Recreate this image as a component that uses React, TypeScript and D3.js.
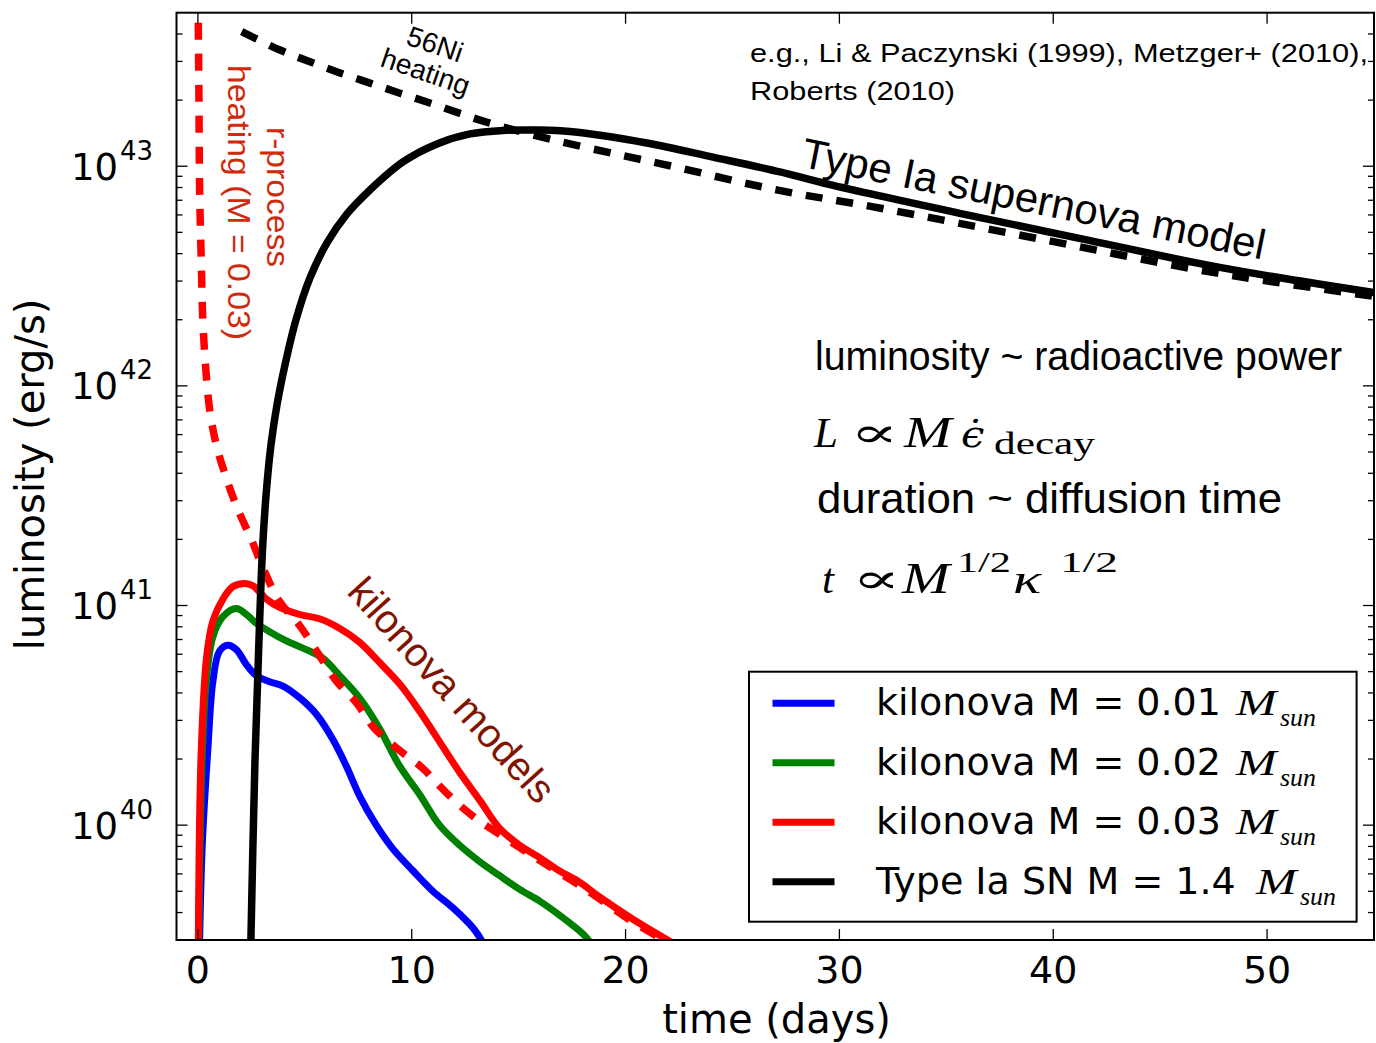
import React from "react";
import * as d3 from "d3";

// ---- axis ranges and ticks ----
const timeDomain: [number, number] = [-1, 55];
const lumDomain: [number, number] = [3e39, 5e43];
const timeTicks = [0, 10, 20, 30, 40, 50];
const lumMajorTicks = [1e40, 1e41, 1e42, 1e43];

// ---- kilonova light curves (time in days, luminosity in erg/s) ----
const kn001Days = [0.05, 0.2, 0.47, 0.7, 1.01, 1.41, 1.8, 2.26, 2.73, 3.35, 3.98, 4.76, 5.54, 6.32, 6.94, 7.56, 8.34, 9.12, 10.06, 10.99, 11.93, 12.87, 13.3];
const kn001Lum = [2.0e39, 7.9e39, 2.24e40, 4.5e40, 6.2e40, 6.6e40, 6.3e40, 5.4e40, 4.8e40, 4.5e40, 4.3e40, 3.8e40, 3.2e40, 2.45e40, 1.86e40, 1.36e40, 1.0e40, 7.8e39, 6.2e39, 5.0e39, 4.2e39, 3.4e39, 2.95e39];

const kn002Days = [0.02, 0.1, 0.2, 0.39, 0.7, 1.17, 1.8, 2.27, 2.73, 3.35, 4.14, 5.07, 5.85, 6.63, 7.56, 8.5, 9.43, 10.37, 11.3, 12.24, 13.2, 14.1, 15.05, 16.0, 16.9, 18.0, 18.5];
const kn002Lum = [2.0e39, 7.9e39, 2.0e40, 4.5e40, 7.2e40, 8.9e40, 9.7e40, 9.1e40, 8.3e40, 7.6e40, 6.9e40, 6.3e40, 5.75e40, 4.8e40, 3.8e40, 2.75e40, 1.86e40, 1.38e40, 1.0e40, 8.1e39, 6.8e39, 5.9e39, 5.1e39, 4.5e39, 3.9e39, 3.2e39, 2.8e39];

const kn003Days = [0.01, 0.06, 0.16, 0.4, 0.7, 1.17, 1.64, 2.19, 2.57, 3.2, 3.82, 4.76, 5.69, 6.6, 7.56, 8.5, 9.43, 10.37, 11.3, 12.24, 13.2, 14.1, 15.05, 16.0, 16.9, 17.85, 18.8, 20.4, 22.5];
const kn003Lum = [2.0e39, 7.9e39, 2.24e40, 5.75e40, 8.5e40, 1.07e41, 1.22e41, 1.26e41, 1.23e41, 1.07e41, 9.8e40, 9.1e40, 8.7e40, 7.9e40, 6.8e40, 5.5e40, 4.4e40, 3.3e40, 2.4e40, 1.74e40, 1.29e40, 9.7e39, 8.1e39, 7.1e39, 6.2e39, 5.5e39, 4.7e39, 3.7e39, 2.8e39];

// ---- r-process heating rate for M = 0.03 ----
const rprocDays = [0.02, 0.05, 0.08, 0.15, 0.23, 0.36, 0.55, 0.86, 1.33, 1.86, 2.5, 3.05, 3.8, 4.76, 5.55, 6.5, 7.42, 8.2, 9.3, 10.5, 11.6, 12.85, 14.1, 16.0, 18.0, 20.4, 22.5];
const rprocLum = [4.5e43, 2.0e43, 7.9e42, 4.0e42, 2.0e42, 1.23e42, 7.8e41, 5.4e41, 3.8e41, 2.75e41, 2.0e41, 1.48e41, 1.05e41, 8.1e40, 6.2e40, 4.5e40, 3.6e40, 2.8e40, 2.24e40, 1.82e40, 1.41e40, 1.1e40, 9.1e39, 6.9e39, 5.2e39, 3.6e39, 2.75e39];

// ---- Type Ia supernova model and its 56Ni heating ----
const snDays = [2.46, 2.67, 2.857, 3.021, 3.208, 3.418, 3.699, 4.073, 4.588, 5.242, 6.037, 6.973, 8.048, 9.59, 11.18, 12.725, 14.27, 15.858, 17.4, 20.99, 24.09, 27.22, 29.51, 35.57, 41.62, 47.66, 55.1];
const snLum = [2.45e39, 1.98e40, 6.97e40, 1.79e41, 3.36e41, 5.38e41, 8.19e41, 1.245e42, 2.0e42, 3.1e42, 4.48e42, 6.07e42, 7.8e42, 1.046e43, 1.263e43, 1.403e43, 1.456e43, 1.462e43, 1.439e43, 1.276e43, 1.1e43, 9.42e42, 8.26e42, 6.12e42, 4.61e42, 3.48e42, 2.65e42];

const niDays = [2.048, 3.839, 5.242, 6.645, 8.048, 9.451, 10.854, 12.257, 13.66, 16.606, 19.74, 22.54, 25.35, 27.83, 31.52, 39.63, 47.67, 55.1];
const niLum = [4.1e43, 3.38e43, 2.99e43, 2.66e43, 2.39e43, 2.15e43, 1.94e43, 1.74e43, 1.57e43, 1.318e43, 1.125e43, 9.82e42, 8.47e42, 7.55e42, 6.55e42, 4.61e42, 3.26e42, 2.55e42];

// ---- legend ----
const legendLabels = ["kilonova M = 0.01", "kilonova M = 0.02", "kilonova M = 0.03", "Type Ia SN M = 1.4"];
const legendColors = ["#0000ff", "#008000", "#ff0000", "#000000"];

const W = 1376;
const H = 1043;
const plot = { left: 176.5, right: 1374, top: 12.7, bottom: 940 };

const SANS = "'DejaVu Sans', 'Bitstream Vera Sans', sans-serif";
const HELV = "'Liberation Sans', Arial, Helvetica, sans-serif";
const SERIF = "'Liberation Serif', 'Times New Roman', serif";
const DSERIF = "'DejaVu Serif', serif";

const x = d3.scaleLinear().domain(timeDomain).range([plot.left, plot.right]);
const y = d3.scaleLog().domain(lumDomain).range([plot.bottom, plot.top]);

const zip = (a: number[], b: number[]) => a.map((v, i) => [v, b[i]] as [number, number]);

// centripetal Catmull-Rom in pixel space keeps the steep rises smooth
const line = d3
  .line<[number, number]>()
  .x((d) => x(d[0]))
  .y((d) => y(d[1]))
  .curve(d3.curveCatmullRom.alpha(0.5));

const minorTicks: number[] = [];
for (let e = 39; e <= 43; e++) {
  for (let k = 2; k <= 9; k++) {
    const v = k * Math.pow(10, e);
    if (v > lumDomain[0] && v < lumDomain[1]) minorTicks.push(v);
  }
}

export default function App() {
  const legendX0 = 749;
  const legendY0 = 671.7;
  const rowY = (i: number) => 703.3 + i * 59.5;
  const msunX = [1236, 1236, 1236, 1256];

  return (
    <svg
      width={W}
      height={H}
      viewBox={`0 0 ${W} ${H}`}
      style={{ position: "absolute", left: 0, top: 0, background: "#fff" }}
    >
      <defs>
        <clipPath id="plotArea">
          <rect x={plot.left} y={plot.top} width={plot.right - plot.left} height={plot.bottom - plot.top} />
        </clipPath>
      </defs>
      <rect x={0} y={0} width={W} height={H} fill="#fff" />

      {/* curves */}
      <g clipPath="url(#plotArea)" fill="none" strokeLinejoin="round">
        <path d={line(zip(kn001Days, kn001Lum)) ?? ""} stroke="#0000ff" strokeWidth={7} />
        <path d={line(zip(kn002Days, kn002Lum)) ?? ""} stroke="#008000" strokeWidth={7} />
        <path d={line(zip(kn003Days, kn003Lum)) ?? ""} stroke="#ff0000" strokeWidth={7} />
        <path d={line(zip(rprocDays, rprocLum)) ?? ""} stroke="#ff0000" strokeWidth={7.5} strokeDasharray="17,14" />
        <path d={line(zip(niDays, niLum)) ?? ""} stroke="#000" strokeWidth={7.5} strokeDasharray="17,14" />
        <path d={line(zip(snDays, snLum)) ?? ""} stroke="#000" strokeWidth={7.5} />
      </g>

      {/* ticks (inward, all four sides) */}
      <g stroke="#000" strokeWidth={1.3}>
        {timeTicks.map((t) => (
          <g key={`xt${t}`}>
            <line x1={x(t)} x2={x(t)} y1={plot.bottom} y2={plot.bottom - 11} />
            <line x1={x(t)} x2={x(t)} y1={plot.top} y2={plot.top + 11} />
          </g>
        ))}
        {lumMajorTicks.map((v) => (
          <g key={`ym${v}`}>
            <line x1={plot.left} x2={plot.left + 11} y1={y(v)} y2={y(v)} />
            <line x1={plot.right} x2={plot.right - 11} y1={y(v)} y2={y(v)} />
          </g>
        ))}
        {minorTicks.map((v) => (
          <g key={`yn${v}`}>
            <line x1={plot.left} x2={plot.left + 6} y1={y(v)} y2={y(v)} />
            <line x1={plot.right} x2={plot.right - 6} y1={y(v)} y2={y(v)} />
          </g>
        ))}
      </g>

      {/* frame */}
      <rect
        x={plot.left}
        y={plot.top}
        width={plot.right - plot.left}
        height={plot.bottom - plot.top}
        fill="none"
        stroke="#000"
        strokeWidth={2}
      />

      {/* tick labels */}
      <g fontFamily={SANS} fill="#000">
        {timeTicks.map((t) => (
          <text key={`xl${t}`} x={x(t)} y={983} fontSize={38} textAnchor="middle">
            {t}
          </text>
        ))}
        {lumMajorTicks.map((v) => (
          <g key={`yl${v}`}>
            <text x={118} y={y(v) + 13.5} fontSize={37} textAnchor="end">
              10
            </text>
            <text x={120} y={y(v) - 6.5} fontSize={26}>
              {Math.round(Math.log10(v))}
            </text>
          </g>
        ))}
      </g>

      {/* axis labels */}
      <text x={776.5} y={1033} fontFamily={SANS} fontSize={40} textAnchor="middle">
        time (days)
      </text>
      <text
        transform="translate(44,474.5) rotate(-90)"
        fontFamily={SANS}
        fontSize={40}
        textAnchor="middle"
      >
        luminosity (erg/s)
      </text>

      {/* curve annotations */}
      <g fontFamily={HELV}>
        <g transform="translate(430,59) rotate(19)" fontSize={28} textAnchor="middle">
          <text x={0} y={-6}>56Ni</text>
          <text x={0} y={23}>heating</text>
        </g>
        <text transform="translate(267,197) rotate(90)" fontSize={32} fill="#d02a0a" textAnchor="middle" textLength={140} lengthAdjust="spacingAndGlyphs">
          r-process
        </text>
        <text transform="translate(228,202.5) rotate(90)" fontSize={32} fill="#d02a0a" textAnchor="middle" textLength={275} lengthAdjust="spacingAndGlyphs">
          heating (M = 0.03)
        </text>
        <text
          transform="translate(452,690) rotate(48)"
          fontSize={40}
          fill="#801400"
          textAnchor="middle"
          dominantBaseline="central"
        >
          kilonova models
        </text>
        <text transform="translate(1031,213) rotate(11.4)" fontSize={42} textAnchor="middle">
          Type Ia supernova model
        </text>
        <text x={750} y={62} fontSize={26} textLength={618} lengthAdjust="spacingAndGlyphs">
          e.g., Li &amp; Paczynski (1999), Metzger+ (2010),
        </text>
        <text x={750} y={100} fontSize={26} textLength={205} lengthAdjust="spacingAndGlyphs">
          Roberts (2010)
        </text>
        <text x={815} y={370} fontSize={41} textLength={527} lengthAdjust="spacingAndGlyphs">
          luminosity ~ radioactive power
        </text>
        <text x={817} y={513} fontSize={42} textLength={465} lengthAdjust="spacingAndGlyphs">
          duration ~ diffusion time
        </text>
      </g>

      {/* scaling relations */}
      <g fill="#000">
        <text x={814} y={447} fontFamily={SERIF} fontStyle="italic" fontSize={43}>L</text>
        <text transform="translate(850,447) scale(1.8,1.05)" fontFamily={DSERIF} fontSize={40}>∝</text>
        <text transform="translate(904,447) scale(1.3,1)" fontFamily={SERIF} fontStyle="italic" fontSize={44}>M</text>
        <text transform="translate(961,447) scale(1.1,1)" fontFamily={DSERIF} fontStyle="italic" fontSize={38}>{"\u03F5\u0307"}</text>
        <text x={994} y={454} fontFamily={SERIF} fontSize={31} textLength={101} lengthAdjust="spacingAndGlyphs">decay</text>

        <text x={822} y={593} fontFamily={SERIF} fontStyle="italic" fontSize={43}>t</text>
        <text transform="translate(852,593) scale(1.8,1.05)" fontFamily={DSERIF} fontSize={40}>∝</text>
        <text transform="translate(902,593) scale(1.3,1)" fontFamily={SERIF} fontStyle="italic" fontSize={44}>M</text>
        <text x={957} y={572} fontFamily={SERIF} fontSize={30} textLength={54} lengthAdjust="spacingAndGlyphs">1/2</text>
        <text transform="translate(1013,593) scale(1.4,1)" fontFamily={SERIF} fontStyle="italic" fontSize={42}>κ</text>
        <text x={1060} y={572} fontFamily={SERIF} fontSize={30} textLength={58} lengthAdjust="spacingAndGlyphs">1/2</text>
      </g>

      {/* legend */}
      <rect x={legendX0} y={legendY0} width={607.6} height={250} fill="#fff" stroke="#000" strokeWidth={2} />
      {legendLabels.map((lab, i) => (
        <g key={lab}>
          <line x1={772.5} x2={834.5} y1={rowY(i)} y2={rowY(i)} stroke={legendColors[i]} strokeWidth={7} />
          <text x={876} y={rowY(i) + 12} fontFamily={SANS} fontSize={38}>
            {lab}
          </text>
          <text transform={`translate(${msunX[i]},${rowY(i) + 12}) scale(1.35,1)`} fontFamily={SERIF} fontStyle="italic" fontSize={36}>
            M
          </text>
          <text x={msunX[i] + 44} y={rowY(i) + 23} fontFamily={SERIF} fontStyle="italic" fontSize={26} textLength={36} lengthAdjust="spacingAndGlyphs">
            sun
          </text>
        </g>
      ))}
    </svg>
  );
}
